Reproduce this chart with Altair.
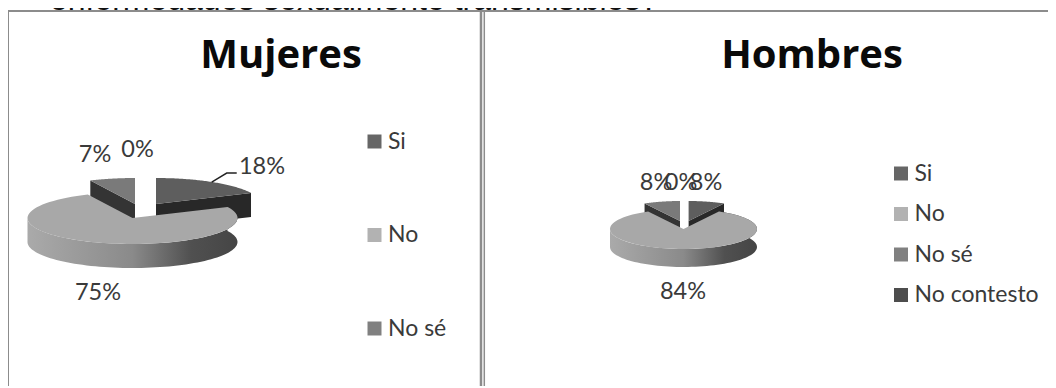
import math
import altair as alt
import pandas as pd

# ---- values
categories = ["Si", "No", "No sé", "No contesto"]
mujeres = [18, 75, 7, 0]
hombres = [8, 84, 8, 0]
legend_mujeres = ["Si", "No", "No sé"]
legend_hombres = ["Si", "No", "No sé", "No contesto"]
heading = "enfermedades sexualmente transmisibles?"

# ---- layout / style
W, H = 1040, 378
X = alt.X("x:Q", axis=None, scale=alt.Scale(domain=[8, 1048], nice=False, zero=False))
Y = alt.Y("y:Q", axis=None, scale=alt.Scale(domain=[386, 8], nice=False, zero=False))
TOP = {"Si": "#5e5e5e", "No": "#a8a8a8", "No sé": "#7a7a7a"}
CUT = {"Si": "#282828", "No sé": "#343434"}
LEG = ["#666666", "#b2b2b2", "#808080", "#4d4d4d"]
SIDE = alt.LinearGradient(
    gradient="linear", x1=0, x2=1, y1=0, y2=0,
    stops=[alt.GradientStop(offset=0, color="#aaaaaa"),
           alt.GradientStop(offset=0.5, color="#8a8a8a"),
           alt.GradientStop(offset=0.78, color="#505050"),
           alt.GradientStop(offset=1, color="#454545")],
)
FONT = "Lato"


def poly(points, fill):
    pts = list(points) + [points[0]]
    df = pd.DataFrame({"x": [p[0] for p in pts], "y": [p[1] for p in pts], "i": range(len(pts))})
    return alt.Chart(df).mark_line(fill=fill, strokeWidth=0, interpolate="linear", clip=False).encode(x=X, y=Y, order="i:Q")


def pt(c, a, b, t):
    r = math.radians(t)
    return (c[0] + a * math.sin(r), c[1] - b * math.cos(r))


def arc(c, a, b, t0, t1, n=80):
    return [pt(c, a, b, t0 + (t1 - t0) * k / n) for k in range(n + 1)]


def pie(values, a, b, depth, si_c, no_c, nose_c):
    t_si = values[0] * 3.6
    t_no = t_si + values[1] * 3.6
    t_ns = t_no + values[2] * 3.6
    down = lambda ps: [(p[0], p[1] + depth) for p in ps]
    out = []
    # back slices: cut faces, then tops
    s_arc = arc(si_c, a, b, 0, t_si)
    e = s_arc[-1]
    out.append(poly([si_c, e, (e[0], e[1] + depth), (si_c[0], si_c[1] + depth)], CUT["Si"]))
    out.append(poly([si_c] + s_arc, TOP["Si"]))
    n_arc = arc(nose_c, a, b, t_no, t_ns)
    f = n_arc[0]
    out.append(poly([nose_c, f, (f[0], f[1] + depth), (nose_c[0], nose_c[1] + depth)], CUT["No sé"]))
    out.append(poly([nose_c] + n_arc, TOP["No sé"]))
    # front slice: wall, then top
    wall = arc(no_c, a, b, t_si, 270)
    out.append(poly(wall + down(wall)[::-1], SIDE))
    out.append(poly([no_c] + arc(no_c, a, b, t_si, t_no), TOP["No"]))
    return out


def label(txt, x, y, size=23.5, color="#3a3a3a", weight="normal", font=FONT, base="middle"):
    df = pd.DataFrame({"x": [x], "y": [y], "t": [txt]})
    return alt.Chart(df).mark_text(
        font=font, fontSize=size, color=color, fontWeight=weight, baseline=base, align="center"
    ).encode(x=X, y=Y, text="t:N")


def segment(x0, y0, x1, y1, color="#8c8c8c", width=2):
    df = pd.DataFrame({"x": [x0, x1], "y": [y0, y1], "i": [0, 1]})
    return alt.Chart(df).mark_line(color=color, strokeWidth=width).encode(x=X, y=Y, order="i:Q")


def legend_layer(names, lx, ly, pad):
    df = pd.DataFrame({"c": names})
    return alt.Chart(df).mark_square(size=0, opacity=0).encode(
        x=alt.value(0), y=alt.value(0),
        color=alt.Color(
            "c:N",
            scale=alt.Scale(domain=names, range=LEG[:len(names)]),
            legend=alt.Legend(
                orient="none", legendX=lx, legendY=ly, title=None, symbolType="square",
                symbolSize=196, symbolStrokeWidth=0, symbolOpacity=1, rowPadding=pad,
                labelFont=FONT, labelFontSize=23, labelColor="#3a3a3a", labelOffset=2,
                labelLimit=200, padding=0,
            ),
        ),
    )


layers = [
    label(heading, 354, 10, size=32, color="#111111", font="Liberation Sans", base="alphabetic"),
    segment(8, 11, 1056, 11),
    segment(8, 11, 8, 388),
    segment(481, 11, 481, 388, width=2.5),
    segment(484.3, 11, 484.3, 388, width=1.5),
    label("Mujeres", 281, 68, size=40, color="#0a0a0a", weight="bold", base="alphabetic", font="Open Sans"),
    label("Hombres", 812, 68, size=40, color="#0a0a0a", weight="bold", base="alphabetic", font="Open Sans"),
]
layers += pie(mujeres, 105, 26, 24, (156, 204), (132.5, 218), (135, 204))
layers += pie(hombres, 73.5, 20, 18, (688.6, 221), (683.5, 229), (680, 221))

lead = pt((156, 204), 104, 26, mujeres[0] * 1.8)
layers += [
    alt.Chart(pd.DataFrame({"x": [lead[0], lead[0] + 15, lead[0] + 25], "y": [lead[1], lead[1] - 9, lead[1] - 9], "i": [0, 1, 2]}))
    .mark_line(color="#222222", strokeWidth=1.4).encode(x=X, y=Y, order="i:Q"),
    label(f"{mujeres[2]}%", 95, 155),
    label(f"{mujeres[3]}%", 137.5, 150),
    label(f"{mujeres[0]}%", 262, 167),
    label(f"{mujeres[1]}%", 98, 293),
    label(f"{hombres[0]}%", 656, 183),
    label(f"{hombres[3]}%", 681, 183),
    label(f"{hombres[2]}%", 706, 183),
    label(f"{hombres[1]}%", 683, 292),
    legend_layer(legend_mujeres, 355, 122, 69.5),
    legend_layer(legend_hombres, 881.5, 154, 16.5),
]

chart = (
    alt.layer(*layers)
    .resolve_scale(color="independent")
    .properties(width=W, height=H, padding=0, autosize=alt.AutoSizeParams(type="none"), background="white")
    .configure_view(strokeWidth=0)
)

chart.save("out.html", embed_options={"renderer": "svg", "actions": False})
